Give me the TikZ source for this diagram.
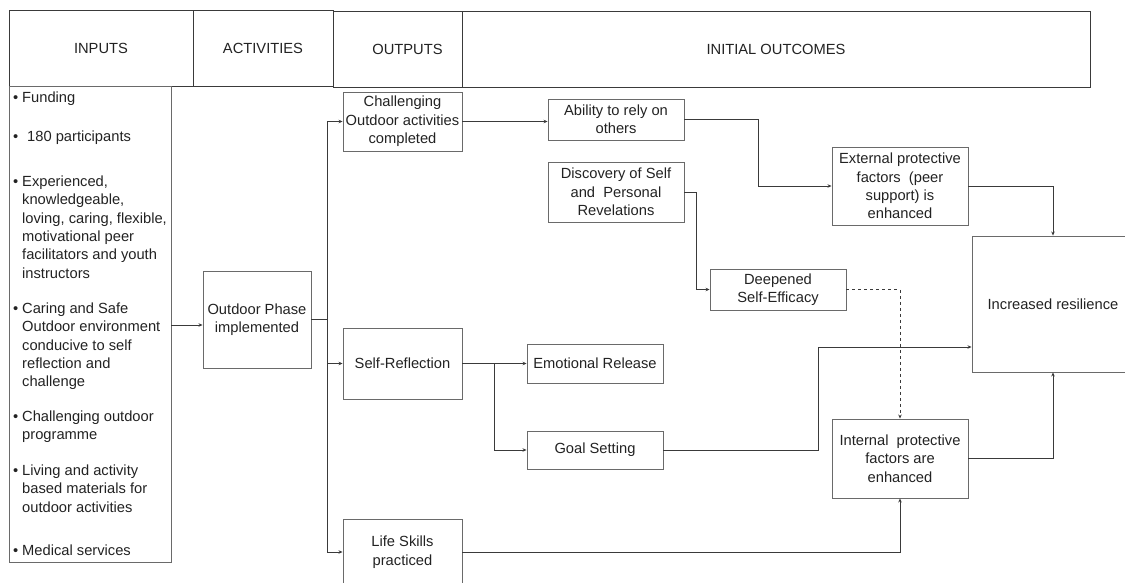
\documentclass[tikz,border=0pt]{standalone}
\usepackage{fontspec}
\setmainfont{Liberation Sans}
\usetikzlibrary{arrows.meta}
\definecolor{boxc}{HTML}{6A6A6A}
\definecolor{linec}{HTML}{3A3A3A}
\definecolor{txtc}{HTML}{222222}
\newcommand{\fs}{\fontsize{14.7}{18.4}\selectfont}
\tikzset{
  bx/.style={draw=boxc, line width=0.9pt, inner sep=0pt, align=center, font=\fs, text=txtc},
  hd/.style={draw=linec, line width=0.9pt, inner sep=0pt, align=center, font=\fs, text=txtc, minimum height=76pt},
  conn/.style={draw=linec, line width=0.8pt},
  arr/.style={conn, -{Stealth[length=4pt,width=3.5pt]}},
  inl/.style={anchor=north west, inner sep=0pt, align=left, font=\fs, text=txtc},
  bul/.style={anchor=north west, inner sep=0pt, font=\fs, text=txtc}
}
\begin{document}
\begin{tikzpicture}[x=1pt,y=-1pt]
\useasboundingbox (0,0) rectangle (1125,583);
\clip (0,0) rectangle (1125,583);
% header
\node[hd, minimum width=184pt] (hin) at (101,48) {INPUTS};
\node[hd, minimum width=140pt] (hact) at (263,48) {ACTIVITIES};
\node[hd, minimum width=129pt, label={[font=\fs,text=txtc,xshift=10pt]center:OUTPUTS}] (hout) at (397.5,49) {};
\node[hd, minimum width=628pt] (hinit) at (776,49) {INITIAL OUTCOMES};
% inputs
\node[bx, minimum width=162pt, minimum height=476pt] (inputs) at (90,324) {};
\node[bul] (b1) at (13,91.5) {\vphantom{Fd}•};
\node[inl] (i1) at (22,91.5) {Funding};
\node[bul] (b2) at (13,130.5) {\vphantom{Fd}•};
\node[inl] (i2) at (27,130.5) {180 participants};
\node[bul] (b3) at (13,175.5) {\vphantom{Fd}•};
\node[inl] (i3) at (22,175.5) {Experienced,\\knowledgeable,\\loving, caring, flexible,\\motivational peer\\facilitators and youth\\instructors};
\node[bul] (b4) at (13,302.5) {\vphantom{Fd}•};
\node[inl] (i4) at (22,302.5) {Caring and Safe\\Outdoor environment\\conducive to self\\reflection and\\challenge};
\node[bul] (b5) at (13,410.5) {\vphantom{Fd}•};
\node[inl] (i5) at (22,410.5) {Challenging outdoor\\programme};
\node[bul] (b6) at (13,464.5) {\vphantom{Fd}•};
\node[inl] (i6) at (22,464.5) {Living and activity\\based materials for\\outdoor activities};
\node[bul] (b7) at (13,544.5) {\vphantom{Fd}•};
\node[inl] (i7) at (22,544.5) {Medical services};
% activities / outputs
\node[bx, minimum width=108pt, minimum height=97pt] (op) at (257,319.5) {Outdoor Phase\\implemented};
\node[bx, minimum width=119pt, minimum height=59pt] (ch) at (402.5,121.5) {Challenging\\Outdoor activities\\completed};
\node[bx, minimum width=119pt, minimum height=71pt] (sr) at (402.5,363.5) {Self-Reflection};
\node[bx, minimum width=119pt, minimum height=66pt] (ls) at (402.5,552) {Life Skills\\practiced};
% outcomes
\node[bx, minimum width=136pt, minimum height=41pt] (ab) at (616,119.5) {Ability to rely on\\others};
\node[bx, minimum width=136pt, minimum height=60pt] (di) at (616,192) {Discovery of Self\\and\ \ Personal\\Revelations};
\node[bx, minimum width=136pt, minimum height=39pt] (er) at (595,363.5) {Emotional Release};
\node[bx, minimum width=136pt, minimum height=38pt] (gs) at (595,450) {Goal Setting};
\node[bx, minimum width=136pt, minimum height=41pt] (de) at (778,289.5) {Deepened\\Self-Efficacy};
\node[bx, minimum width=136pt, minimum height=78pt] (ex) at (900,186) {External protective\\factors\ \ (peer\\support) is\\enhanced};
\node[bx, minimum width=136pt, minimum height=79pt] (in) at (900,458.5) {Internal\ \ protective\\factors are\\enhanced};
\node[bx, minimum width=162pt, minimum height=136pt] (ir) at (1053,304) {Increased resilience};
% connectors
\coordinate (t) at (327,319.5);
\draw[arr] (inputs.east |- 0,325) -- (op.west |- 0,325);
\draw[conn] (op.east) -- (t);
\draw[arr] (t) |- (ch.west);
\draw[arr] (t) |- (sr.west);
\draw[arr] (t) |- (ls.west);
\draw[arr] (ch.east) -- (ch.east -| ab.west);
\draw[arr] (ab.east) -- ++(74,0) |- (ex.west);
\draw[arr] (di.east) -- ++(12,0) |- (de.west);
\draw[arr, dashed] (de.east) -| (in.north);
\draw[arr] (ex.east) -| (ir.north);
\draw[arr] (sr.east) -- (er.west);
\draw[arr] ([xshift=32pt]sr.east) |- (gs.west);
\draw[arr] (gs.east) -- ++(155,0) |- ([yshift=-43pt]ir.west);
\draw[arr] (ls.east) -| (in.south);
\draw[arr] (in.east) -| (ir.south);
\end{tikzpicture}
\end{document}
